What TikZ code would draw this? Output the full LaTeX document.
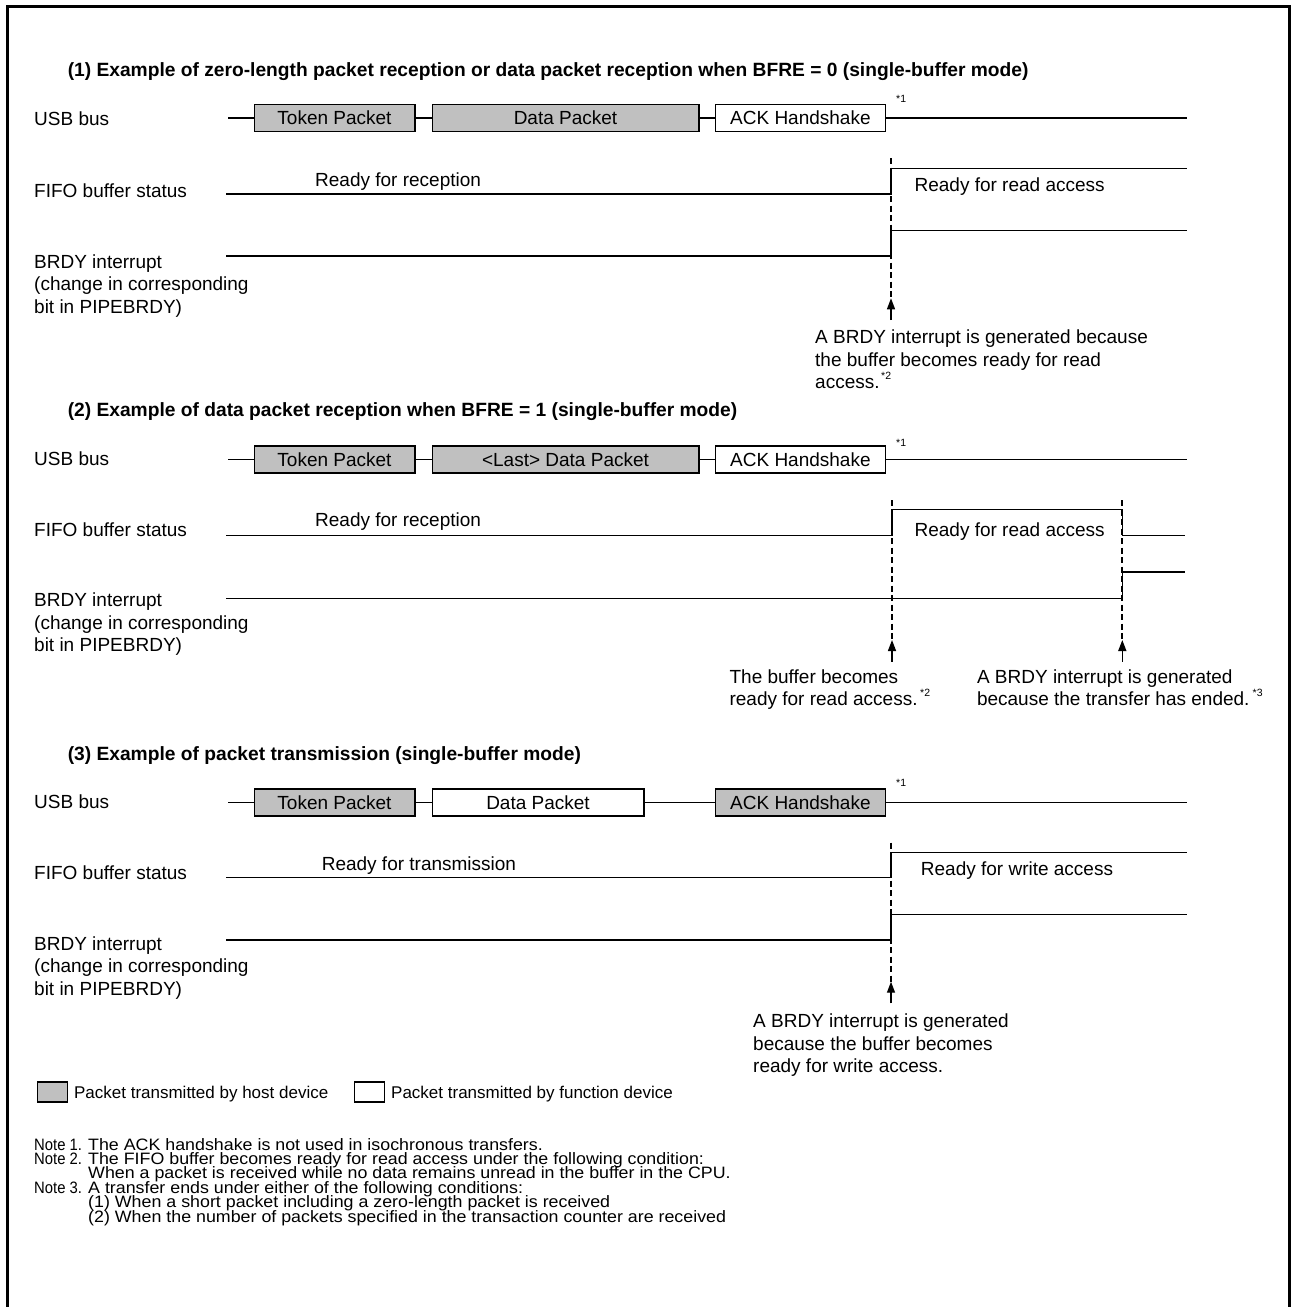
\documentclass[tikz,border=0pt]{standalone}
\usepackage{fontspec}
\setmainfont{Liberation Sans}
\newfontfamily\notefont{Liberation Sans}[FakeStretch=1.08]
\newfontfamily\notelabfont{Liberation Sans}[FakeStretch=0.9]
\usetikzlibrary{arrows.meta}
\definecolor{hostgray}{RGB}{192,192,192}
\begin{document}
\begin{tikzpicture}[x=1pt,y=-1pt,
  txt/.style={anchor=base west,inner sep=0pt,font=\fontsize{19}{22.5}\selectfont},
  ttl/.style={anchor=base west,inner sep=0pt,font=\fontsize{19.2}{22.5}\selectfont\bfseries},
  supm/.style={anchor=base west,inner sep=0pt,font=\fontsize{10.5}{12}\selectfont},
  small/.style={anchor=base west,inner sep=0pt,font=\fontsize{17}{20}\selectfont},
  note/.style={anchor=base west,inner sep=0pt,font=\notefont\fontsize{16.5}{18}\selectfont},
  notelab/.style={anchor=base west,inner sep=0pt,font=\notelabfont\fontsize{16.5}{18}\selectfont},
  pkt/.style={draw,line width=1.5pt,minimum height=27pt,inner sep=0pt,anchor=west,font=\fontsize{19}{22.5}\selectfont},
  host/.style={pkt,fill=hostgray},
  func/.style={pkt,fill=white},
  sig/.style={line width=1.4pt},
  vdash/.style={line width=2pt,dash pattern=on 6pt off 3.5pt},
  arr/.style={line width=1.4pt,-{Triangle[width=8pt,length=11pt]}},
  frame/.style={line width=3pt},
  legbox/.style={draw,line width=1.3pt,minimum width=30pt,minimum height=20pt,inner sep=0pt,anchor=west}
]
\useasboundingbox (0,0) rectangle (1292,1307);
% frame
\coordinate (fbl) at (7.5,1307); \coordinate (ftl) at (7.5,6.5);
\coordinate (ftr) at (1289.5,6.5); \coordinate (fbr) at (1289.5,1307);
\draw[frame] (fbl) -- (ftl) -- (ftr) -- (fbr);

% ================= Section 1 =================
\node[ttl] (t1) at (67.6,76) {(1) Example of zero-length packet reception or data packet reception when BFRE = 0 (single-buffer mode)};
\node[txt] (usb1) at (34,125) {USB bus};
\node[txt] (fifo1) at (34,197.3) {FIFO buffer status};
\node[txt] (brdy1a) at (34,268.3) {BRDY interrupt};
\node[txt] (brdy1b) at (34,290.8) {(change in corresponding};
\node[txt] (brdy1c) at (34,313.3) {bit in PIPEBRDY)};

\node[host,minimum width=160.5pt] (tok1) at (253.5,117.8) {Token Packet};
\node[host,minimum width=266.5pt] (dat1) at (431.5,117.8) {Data Packet};
\node[func,minimum width=169.7pt] (ack1) at (714.8,117.8) {ACK Handshake};
\coordinate (u1s) at (228,117.8); \coordinate (u1e) at (1187,117.8);
\draw[sig] (u1s) -- (tok1.west);
\draw[sig] (tok1.east) -- (dat1.west);
\draw[sig] (dat1.east) -- (ack1.west);
\draw[sig] (ack1.east) -- (u1e);
\node[supm] (s11) at (896,102) {*1};

\coordinate (f1a) at (226,194); \coordinate (f1b) at (891,194);
\coordinate (f1c) at (891,168.3); \coordinate (f1d) at (1187,168.3);
\draw[sig] (f1a) -- (f1b) -- (f1c) -- (f1d);
\node[txt] (rr1) at (315,186.7) {Ready for reception};
\node[txt] (rra1) at (914.4,191.7) {Ready for read access};

\coordinate (b1a) at (226,256); \coordinate (b1b) at (891,256);
\coordinate (b1c) at (891,230.7); \coordinate (b1d) at (1187,230.7);
\draw[sig] (b1a) -- (b1b) -- (b1c) -- (b1d);

\coordinate (d1top) at (891,158); \coordinate (d1tip) at (891,298.3); \coordinate (d1bot) at (891,320);
\draw[vdash] (d1top) -- (d1tip);
\draw[arr] (d1bot) -- (d1tip);
\node[txt] (n1a) at (815,343.5) {A BRDY interrupt is generated because};
\node[txt] (n1b) at (815,366) {the buffer becomes ready for read};
\node[txt] (n1c) at (815,388.5) {access.};
\node[supm] (s12) at (881,379) {*2};

% ================= Section 2 =================
\node[ttl] (t2) at (67.6,416.5) {(2) Example of data packet reception when BFRE = 1 (single-buffer mode)};
\node[txt] (usb2) at (34,465) {USB bus};
\node[txt] (fifo2) at (34,536.7) {FIFO buffer status};
\node[txt] (brdy2a) at (34,606.7) {BRDY interrupt};
\node[txt] (brdy2b) at (34,629.2) {(change in corresponding};
\node[txt] (brdy2c) at (34,651.7) {bit in PIPEBRDY)};

\node[host,minimum width=160.5pt] (tok2) at (253.5,459.3) {Token Packet};
\node[host,minimum width=266.5pt] (dat2) at (431.5,459.3) {<Last> Data Packet};
\node[func,minimum width=169.7pt] (ack2) at (714.8,459.3) {ACK Handshake};
\coordinate (u2s) at (228,459.3); \coordinate (u2e) at (1187,459.3);
\draw[sig] (u2s) -- (tok2.west);
\draw[sig] (tok2.east) -- (dat2.west);
\draw[sig] (dat2.east) -- (ack2.west);
\draw[sig] (ack2.east) -- (u2e);
\node[supm] (s21) at (896,446.7) {*1};

\coordinate (f2a) at (226,535.7); \coordinate (f2b) at (892,535.7);
\coordinate (f2c) at (892,509.3); \coordinate (f2d) at (1122.3,509.3);
\coordinate (f2e) at (1122.3,535.7); \coordinate (f2f) at (1185,535.7);
\draw[sig] (f2a) -- (f2b) -- (f2c) -- (f2d) -- (f2e) -- (f2f);
\node[txt] (rr2) at (315,526) {Ready for reception};
\node[txt] (rra2) at (914.4,536.7) {Ready for read access};

\coordinate (b2a) at (226,598.7); \coordinate (b2b) at (1122.3,598.7);
\coordinate (b2c) at (1122.3,572); \coordinate (b2d) at (1185,572);
\draw[sig] (b2a) -- (b2b) -- (b2c) -- (b2d);

\coordinate (d2top) at (892,500); \coordinate (d2tip) at (892,640); \coordinate (d2bot) at (892,661.7);
\draw[vdash] (d2top) -- (d2tip);
\draw[arr] (d2bot) -- (d2tip);
\coordinate (d3top) at (1122.3,500); \coordinate (d3tip) at (1122.3,640); \coordinate (d3bot) at (1122.3,661.7);
\draw[vdash] (d3top) -- (d3tip);
\draw[arr] (d3bot) -- (d3tip);
\node[txt] (n2a) at (729.4,683.3) {The buffer becomes};
\node[txt] (n2b) at (729.4,705.7) {ready for read access.};
\node[supm] (s22) at (920,696.7) {*2};
\node[txt] (n3a) at (976.8,683.3) {A BRDY interrupt is generated};
\node[txt] (n3b) at (976.8,705.7) {because the transfer has ended.};
\node[supm] (s23) at (1252.5,696.7) {*3};

% ================= Section 3 =================
\node[ttl] (t3) at (67.6,760) {(3) Example of packet transmission (single-buffer mode)};
\node[txt] (usb3) at (34,808.3) {USB bus};
\node[txt] (fifo3) at (34,879.3) {FIFO buffer status};
\node[txt] (brdy3a) at (34,950) {BRDY interrupt};
\node[txt] (brdy3b) at (34,972.5) {(change in corresponding};
\node[txt] (brdy3c) at (34,995) {bit in PIPEBRDY)};

\node[host,minimum width=160.5pt] (tok3) at (253.5,802.5) {Token Packet};
\node[func,minimum width=211.5pt] (dat3) at (431.5,802.5) {Data Packet};
\node[host,minimum width=169.7pt] (ack3) at (714.8,802.5) {ACK Handshake};
\coordinate (u3s) at (228,802.5); \coordinate (u3e) at (1187,802.5);
\draw[sig] (u3s) -- (tok3.west);
\draw[sig] (tok3.east) -- (dat3.west);
\draw[sig] (dat3.east) -- (ack3.west);
\draw[sig] (ack3.east) -- (u3e);
\node[supm] (s31) at (896,786.7) {*1};

\coordinate (f3a) at (226,877.3); \coordinate (f3b) at (891,877.3);
\coordinate (f3c) at (891,852.7); \coordinate (f3d) at (1187,852.7);
\draw[sig] (f3a) -- (f3b) -- (f3c) -- (f3d);
\node[txt] (rt3) at (321.6,870) {Ready for transmission};
\node[txt] (rwa3) at (920.7,875) {Ready for write access};

\coordinate (b3a) at (226,940); \coordinate (b3b) at (891,940);
\coordinate (b3c) at (891,914.3); \coordinate (b3d) at (1187,914.3);
\draw[sig] (b3a) -- (b3b) -- (b3c) -- (b3d);

\coordinate (d4top) at (891,842.7); \coordinate (d4tip) at (891,981.7); \coordinate (d4bot) at (891,1003.3);
\draw[vdash] (d4top) -- (d4tip);
\draw[arr] (d4bot) -- (d4tip);
\node[txt] (n4a) at (753,1027.3) {A BRDY interrupt is generated};
\node[txt] (n4b) at (753,1050) {because the buffer becomes};
\node[txt] (n4c) at (753,1072.5) {ready for write access.};

% ================= Legend =================
\node[legbox,fill=hostgray] (lg1) at (36.5,1092) {};
\node[small] (lt1) at (73.9,1098) {Packet transmitted by host device};
\node[legbox,fill=white] (lg2) at (353.5,1092) {};
\node[small] (lt2) at (391,1098) {Packet transmitted by function device};

% ================= Notes =================
\node[notelab] (nl1) at (34,1150) {Note 1.};
\node[note] (nt1) at (88,1150) {The ACK handshake is not used in isochronous transfers.};
\node[notelab] (nl2) at (34,1164.4) {Note 2.};
\node[note] (nt2) at (88,1164.4) {The FIFO buffer becomes ready for read access under the following condition:};
\node[note] (nt2b) at (88,1178.8) {When a packet is received while no data remains unread in the buffer in the CPU.};
\node[notelab] (nl3) at (34,1193.2) {Note 3.};
\node[note] (nt3) at (88,1193.2) {A transfer ends under either of the following conditions:};
\node[note] (nt3a) at (88,1207.6) {(1) When a short packet including a zero-length packet is received};
\node[note] (nt3b) at (88,1222) {(2) When the number of packets specified in the transaction counter are received};
\end{tikzpicture}
\end{document}
